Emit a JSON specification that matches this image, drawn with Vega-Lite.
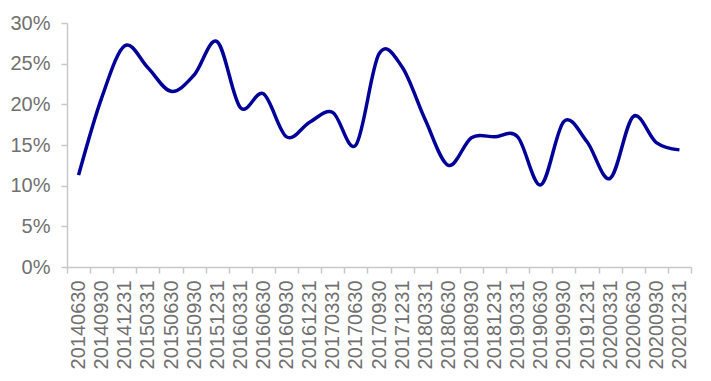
{
  "$schema": "https://vega.github.io/schema/vega-lite/v6.json",
  "width": 624,
  "height": 244,
  "autosize": {"type": "none"},
  "padding": {"left": 67, "top": 23, "right": 20, "bottom": 114},
  "background": "white",
  "config": {"view": {"stroke": null}},
  "data": {
    "values": [
      {"date": "20140630", "v": 0.113},
      {"date": "20140930", "v": 0.208},
      {"date": "20141231", "v": 0.272},
      {"date": "20150331", "v": 0.245},
      {"date": "20150630", "v": 0.216},
      {"date": "20150930", "v": 0.236},
      {"date": "20151231", "v": 0.277},
      {"date": "20160331", "v": 0.196},
      {"date": "20160630", "v": 0.213},
      {"date": "20160930", "v": 0.160},
      {"date": "20161231", "v": 0.178},
      {"date": "20170331", "v": 0.190},
      {"date": "20170630", "v": 0.150},
      {"date": "20170930", "v": 0.262},
      {"date": "20171231", "v": 0.246},
      {"date": "20180331", "v": 0.181},
      {"date": "20180630", "v": 0.125},
      {"date": "20180930", "v": 0.159},
      {"date": "20181231", "v": 0.160},
      {"date": "20190331", "v": 0.160},
      {"date": "20190630", "v": 0.101},
      {"date": "20190930", "v": 0.179},
      {"date": "20191231", "v": 0.154},
      {"date": "20200331", "v": 0.109},
      {"date": "20200630", "v": 0.185},
      {"date": "20200930", "v": 0.153},
      {"date": "20201231", "v": 0.144}
    ]
  },
  "mark": {"type": "line", "interpolate": "cardinal", "color": "#000099", "strokeWidth": 3.5, "clip": false},
  "encoding": {
    "x": {
      "field": "date", "type": "ordinal", "sort": null,
      "scale": {"paddingInner": 0, "paddingOuter": 0},
      "axis": {
        "title": null, "labelAngle": -90, "labelFont": "Liberation Sans", "labelFontSize": 20,
        "labelColor": "#707070", "domainColor": "#C8C8C8", "domainWidth": 1.5,
        "tickColor": "#C8C8C8", "tickWidth": 1.5, "tickSize": 6, "tickBand": "extent",
        "labelPadding": 7, "labelAlign": "right", "labelBaseline": "middle", "grid": false
      }
    },
    "y": {
      "field": "v", "type": "quantitative",
      "scale": {"domain": [0, 0.3], "nice": false, "zero": true},
      "axis": {
        "title": null, "format": ".0%", "values": [0, 0.05, 0.1, 0.15, 0.2, 0.25, 0.3],
        "labelFont": "Liberation Sans", "labelFontSize": 20, "labelColor": "#707070",
        "domainColor": "#C8C8C8", "domainWidth": 1.5, "tickColor": "#C8C8C8", "tickWidth": 1.5,
        "tickSize": 6, "labelPadding": 11, "grid": false
      }
    }
  }
}
